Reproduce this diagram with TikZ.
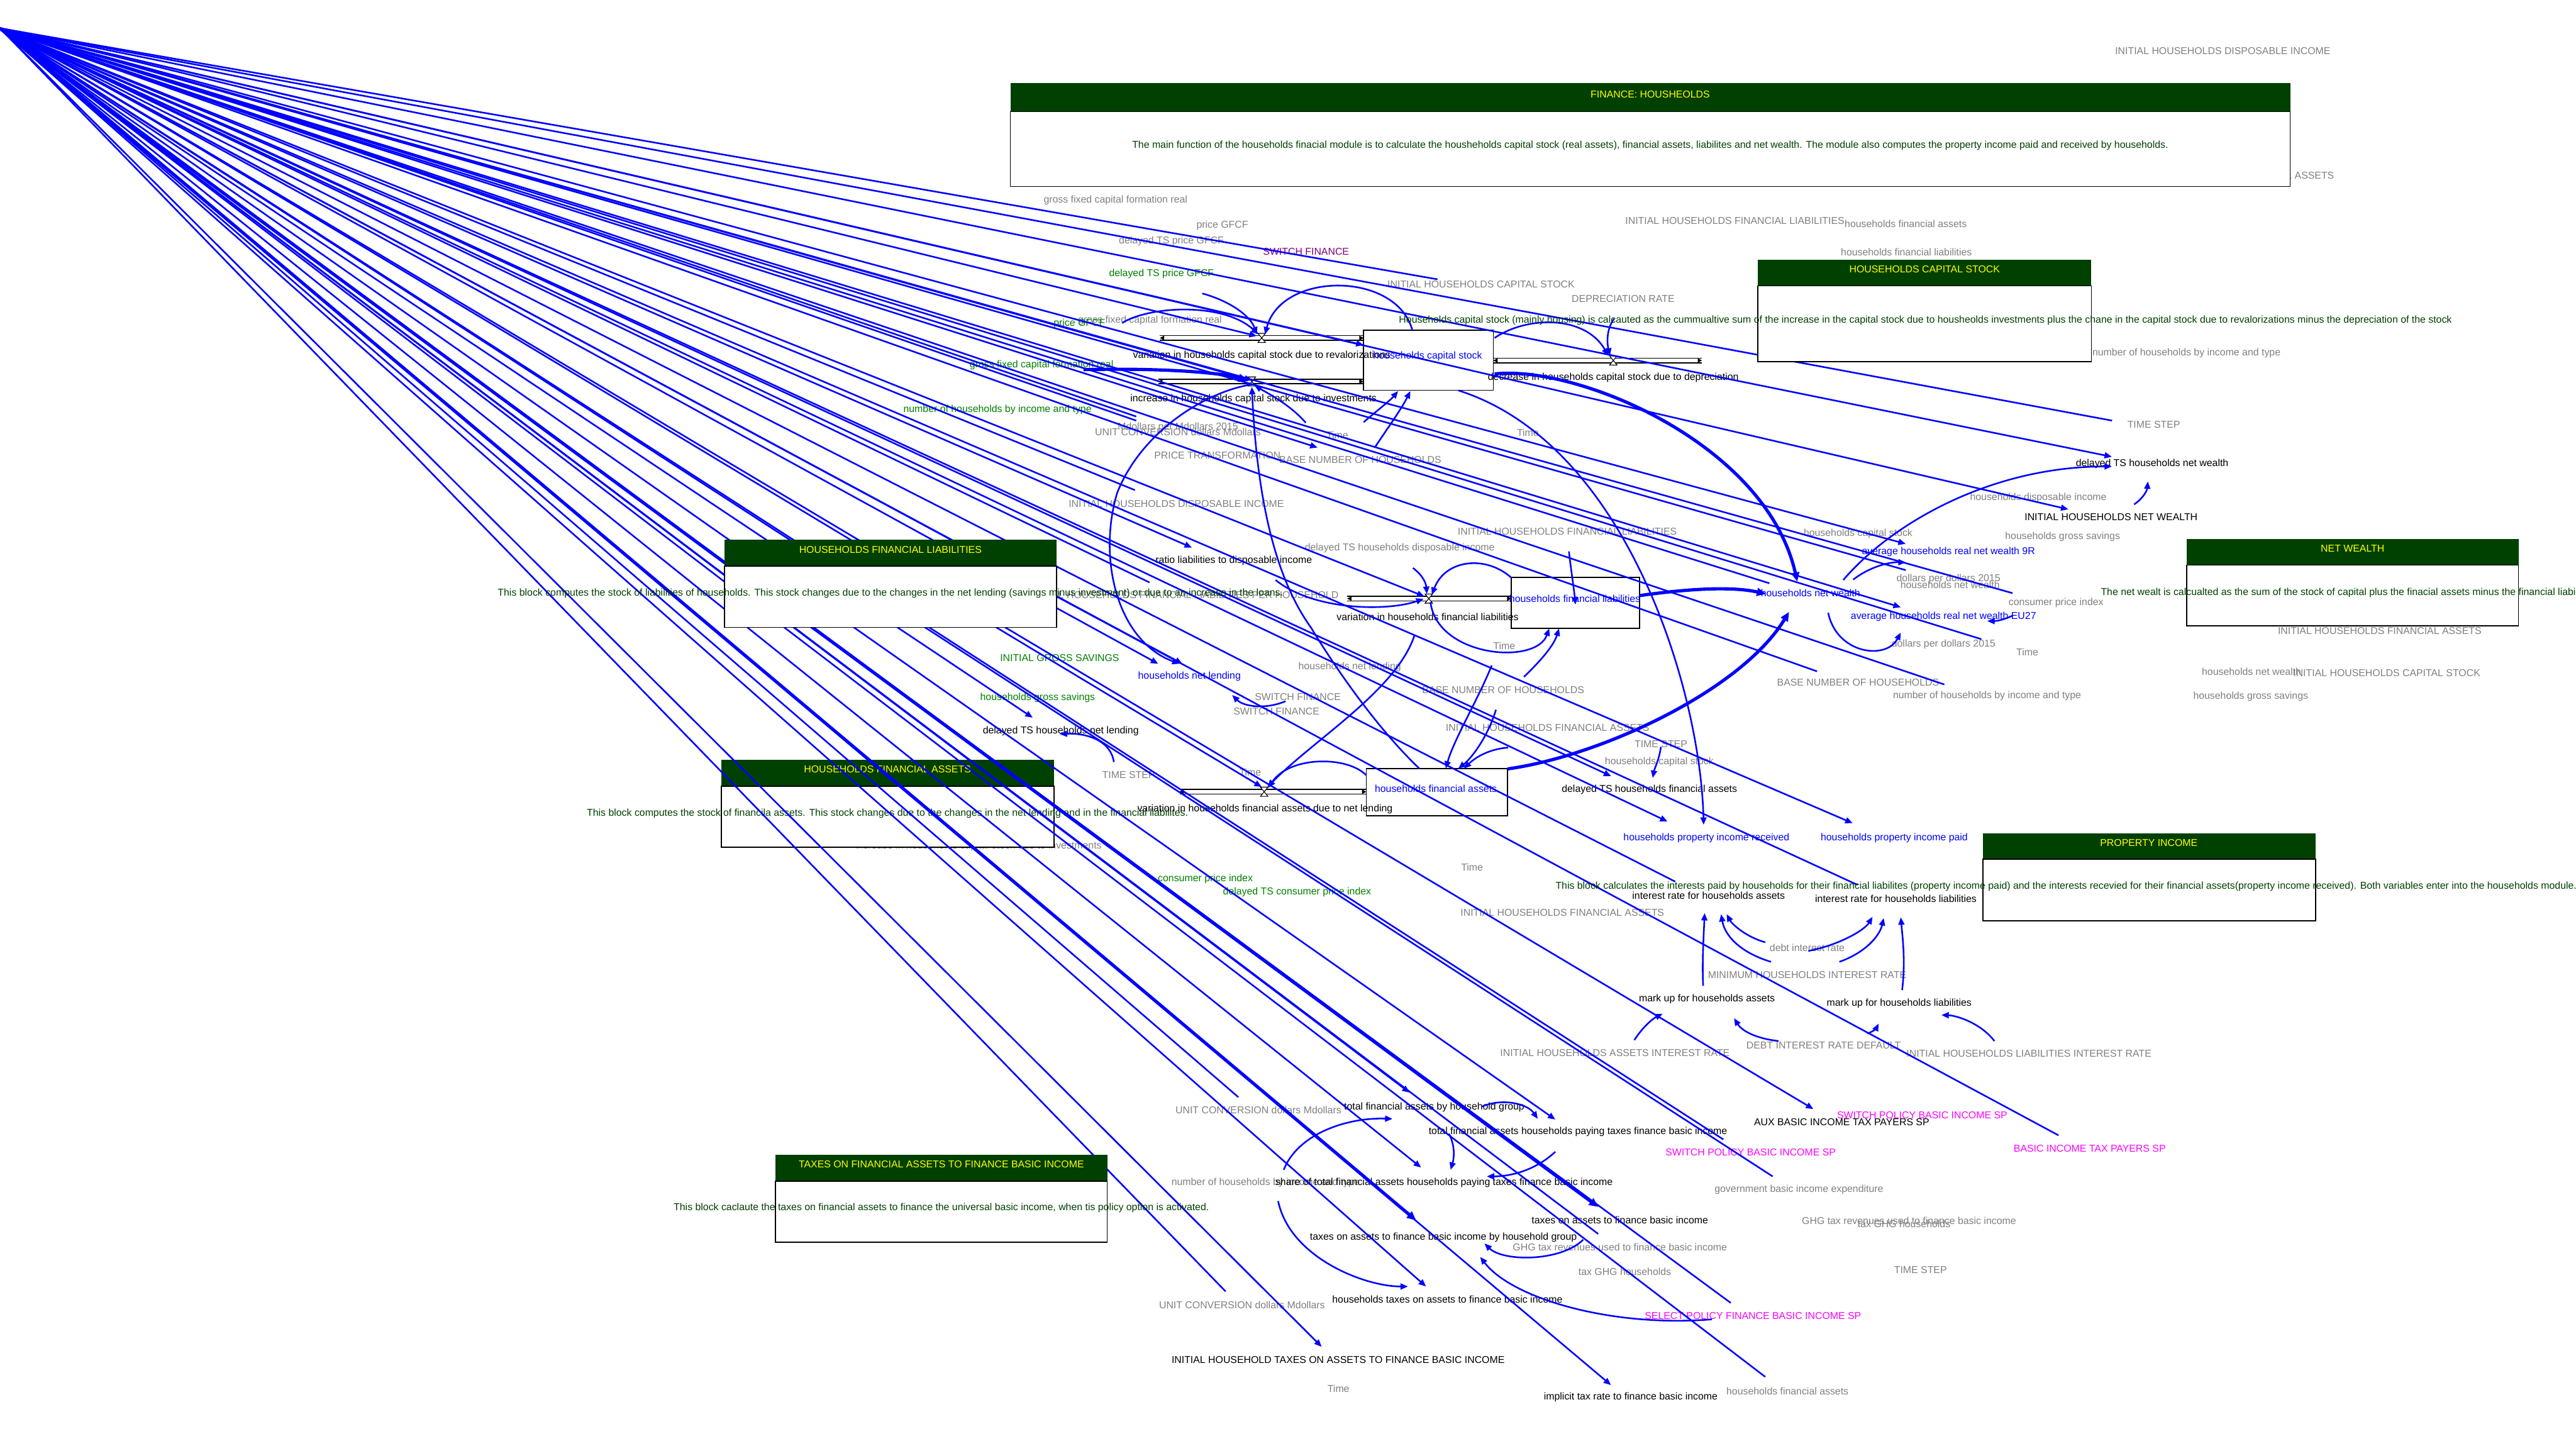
\documentclass[tikz,border=0pt]{standalone}
\usepackage{fontspec}
\setmainfont{Liberation Sans}
\usetikzlibrary{arrows.meta}
\definecolor{vgray}{RGB}{128,128,128}
\definecolor{vgreen}{RGB}{0,128,0}
\definecolor{vdark}{RGB}{0,64,0}
\definecolor{vblue}{RGB}{0,0,255}
\definecolor{vmag}{RGB}{255,0,255}
\definecolor{vpur}{RGB}{128,0,128}
\definecolor{vyel}{RGB}{255,255,0}
\begin{document}
\begin{tikzpicture}[x=0.025cm,y=-0.025cm,
  every node/.style={inner sep=0pt,font=\fontsize{4.32}{5}\selectfont},
  gv/.style={text=vgray}, bk/.style={text=black}, bl/.style={text=vblue},
  gn/.style={text=vgreen}, dg/.style={text=vdark}, mg/.style={text=vmag},
  pu/.style={text=vpur}, yl/.style={text=vyel},
  lnk/.style={draw=vblue,line width=0.7pt},
  lnka/.style={lnk,-{Triangle[length=3.2pt,width=2.6pt]}},
  lnkar/.style={lnk,{Triangle[length=3.2pt,width=2.6pt]}-},
  lnkt/.style={draw=vblue,line width=1.4pt,-{Triangle[length=4pt,width=3.4pt]}},
  pipeline/.style={draw=black,line width=0.4pt},
  stockbox/.style={draw=black,line width=0.45pt},
  headfill/.style={fill=vdark},
  bodybox/.style={draw=black,fill=white,line width=0.45pt}]
\useasboundingbox (0,0) rectangle (1568,880);
\clip (0,0) rectangle (1568,880);
\fill[white] (0,0) rectangle (1568,880);

% labels partly hidden by boxes
\node[gv,anchor=east] (h1) at (1421,107) {INITIAL HOUSEHOLDS FINANCIAL ASSETS};
\node[gv,anchor=east] (h2) at (1388.4,214.9) {number of households by income and type};
\node[gv,anchor=east] (h3) at (815,362) {INITIAL HOUSEHOLDS FINANCIAL LIABILITIES PER HOUSEHOLD};
\node[gv] (h4) at (595.6,515) {increase in households capital stock due to investments};

% financial assets box (under the links)
\fill[headfill] (439,462.5) rectangle (641.5,478.5);
\draw[bodybox] (439,478.5) rectangle (641.5,515.6);
\node[yl] (t5) at (540.2,468.2) {HOUSEHOLDS FINANCIAL ASSETS};
\node[dg] (d5) at (540.2,495) {This block computes the stock of financila assets. This stock changes due to the changes in the net lending and in the financial liabilites.};

% stocks
\draw[stockbox] (830,201) rectangle (909,237.6);
\draw[stockbox] (920,351.4) rectangle (998,382.5);
\draw[stockbox] (831.6,467.8) rectangle (917.6,496.6);

% pipes
\newcommand{\vpipe}[4]{%
  \draw[pipeline] (#1,#3-1.4) -- (#2,#3-1.4) (#1,#3+1.4) -- (#2,#3+1.4);
  \fill (#1,#3) -- (#1+2.6,#3-1.4) -- (#1+2.6,#3+1.4) -- cycle;
  \fill (#2,#3) -- (#2-2.6,#3-1.4) -- (#2-2.6,#3+1.4) -- cycle;
  \filldraw[fill=white,draw=black,line width=0.3pt] (#4-2.3,#3-2.8) -- (#4+2.3,#3-2.8) -- (#4-2.3,#3+2.8) -- (#4+2.3,#3+2.8) -- cycle;}
\vpipe{706}{830}{205.7}{768}
\vpipe{705}{830}{232.2}{762}
\vpipe{909}{1036}{219.4}{982}
\vpipe{820}{920}{364.3}{869.7}
\vpipe{718}{831.6}{481.9}{769.5}

% gray labels
\node[gv] (g1) at (1353,31) {INITIAL HOUSEHOLDS DISPOSABLE INCOME};
\node[gv] (g3) at (679,121.8) {gross fixed capital formation real};
\node[gv] (g4) at (744,137.3) {price GFCF};
\node[gv] (g5) at (713,146.8) {delayed TS price GFCF};
\node[gv] (g6) at (901.5,173) {INITIAL HOUSEHOLDS CAPITAL STOCK};
\node[gv] (g7) at (988,182) {DEPRECIATION RATE};
\node[gv] (g8) at (1056,134.5) {INITIAL HOUSEHOLDS FINANCIAL LIABILITIES};
\node[gv] (g9) at (1160,136.2) {households financial assets};
\node[gv] (g10) at (1160.4,153.4) {households financial liabilities};
\node[gv] (g12) at (1311,258.3) {TIME STEP};
\node[gv] (g13) at (1240.7,302.8) {households disposable income};
\node[gv] (g14) at (1131,324.8) {households capital stock};
\node[gv] (g15) at (1255.5,326.6) {households gross savings};
\node[gv] (g16) at (1186,352.5) {dollars per dollars 2015};
\node[gv] (g17) at (1187,355.8) {households net wealth};
\node[gv] (g18) at (1251.5,366.7) {consumer price index};
\node[gv] (g19) at (1183,392.1) {dollars per dollars 2015};
\node[gv] (g20) at (1234,397) {Time};
\node[gv] (g21) at (1448.5,384) {INITIAL HOUSEHOLDS FINANCIAL ASSETS};
\node[gv] (g22) at (1370.5,408.6) {households net wealth};
\node[gv] (g23) at (1452.8,409.7) {INITIAL HOUSEHOLDS CAPITAL STOCK};
\node[gv] (g24) at (1370,424) {households gross savings};
\node[gv] (g25) at (1131,415.5) {BASE NUMBER OF HOUSEHOLDS};
\node[gv] (g26) at (1209.5,423.6) {number of households by income and type};
\node[gv] (g27) at (700,195) {gross fixed capital formation real};
\node[gv] (g28) at (717,260) {Mdollars per Mdollars 2015};
\node[gv] (g29) at (717,263) {UNIT CONVERSION dollars Mdollars};
\node[gv] (g30) at (814,265) {Time};
\node[gv] (g31) at (930,263.5) {Time};
\node[gv] (g32) at (741,277) {PRICE TRANSFORMATION};
\node[gv] (g33) at (828,280) {BASE NUMBER OF HOUSEHOLDS};
\node[gv] (g34) at (716,306.6) {INITIAL HOUSEHOLDS DISPOSABLE INCOME};
\node[gv] (g35) at (852,333.4) {delayed TS households disposable income};
\node[gv] (g36) at (954,323.5) {INITIAL HOUSEHOLDS FINANCIAL LIABILITIES};
\node[gv] (g38) at (915.6,393) {Time};
\node[gv] (g39) at (821.6,405.9) {households net lending};
\node[gv] (g40) at (790,424) {SWITCH FINANCE};
\node[gv] (g41) at (777,432.9) {SWITCH FINANCE};
\node[gv] (g42) at (915,420) {BASE NUMBER OF HOUSEHOLDS};
\node[gv] (g43) at (942,442.8) {INITIAL HOUSEHOLDS FINANCIAL ASSETS};
\node[gv] (g44) at (1011,452.8) {TIME STEP};
\node[gv] (g45) at (1010,463.6) {households capital stock};
\node[gv] (g46) at (761,470) {Time};
\node[gv] (g47) at (687,471.8) {TIME STEP};
\node[gv] (g49) at (896,528) {Time};
\node[gv] (g50) at (951,555.4) {INITIAL HOUSEHOLDS FINANCIAL ASSETS};
\node[gv] (g51) at (1100,577) {debt interest rate};
\node[gv] (g52) at (1100,593.4) {MINIMUM HOUSEHOLDS INTEREST RATE};
\node[gv] (g53) at (1110,636.4) {DEBT INTEREST RATE DEFAULT};
\node[gv] (g54) at (983,641) {INITIAL HOUSEHOLDS ASSETS INTEREST RATE};
\node[gv] (g55) at (1235,641.4) {INITIAL HOUSEHOLDS LIABILITIES INTEREST RATE};
\node[gv] (g56) at (766,675.7) {UNIT CONVERSION dollars Mdollars};
\node[gv,anchor=west] (g57) at (712.8,719.7) {number of households by income and type};
\node[gv] (g58) at (1095,724) {government basic income expenditure};
\node[gv] (g59) at (1162,742.8) {GHG tax revenues used to finance basic income};
\node[gv] (g60) at (1159,744.8) {tax GHG households};
\node[gv] (g61) at (986,759) {GHG tax revenues used to finance basic income};
\node[gv] (g62) at (989,774) {tax GHG households};
\node[gv] (g63) at (1169,773) {TIME STEP};
\node[gv] (g64) at (756,794.2) {UNIT CONVERSION dollars Mdollars};
\node[gv] (g65) at (814.7,845.3) {Time};
\node[gv] (g66) at (1088,846.6) {households financial assets};

% black labels
\node[bk] (k1) at (768,216.6) {variation in households capital stock due to revalorizations};
\node[bk] (k2) at (763,243) {increase in households capital stock due to investments};
\node[bk] (k3) at (982,230) {decrease in households capital stock due to depreciation};
\node[bk] (k4) at (1310,282.2) {delayed TS households net wealth};
\node[bk] (k5) at (1285,314.7) {INITIAL HOUSEHOLDS NET WEALTH};
\node[bk] (k6) at (751,341.4) {ratio liabilities to disposable income};
\node[bk] (k7) at (869,375.3) {variation in households financial liabilities};
\node[bk] (k8) at (645.7,444.9) {delayed TS households net lending};
\node[bk] (k9) at (1004,480.7) {delayed TS households financial assets};
\node[bk] (k10) at (770,492.5) {variation in households financial assets due to net lending};
\node[bk] (k11) at (1040,545) {interest rate for households assets};
\node[bk] (k12) at (1154,547) {interest rate for households liabilities};
\node[bk] (k13) at (1039,608) {mark up for households assets};
\node[bk] (k14) at (1156,610.7) {mark up for households liabilities};
\node[bk] (k15) at (873,674) {total financial assets by household group};
\node[bk] (k16) at (1121,683) {AUX BASIC INCOME TAX PAYERS SP};
\node[bk] (k17) at (960.5,688.8) {total financial assets households paying taxes finance basic income};
\node[bk] (k18) at (879,719.7) {share of total financial assets households paying taxes finance basic income};
\node[bk] (k19) at (986,742.5) {taxes on assets to finance basic income};
\node[bk] (k20) at (878.6,753) {taxes on assets to finance basic income by household group};
\node[bk] (k21) at (881,791) {households taxes on assets to finance basic income};
\node[bk] (k22) at (814.5,827.7) {INITIAL HOUSEHOLD TAXES ON ASSETS TO FINANCE BASIC INCOME};
\node[bk] (k23) at (992.6,850.5) {implicit tax rate to finance basic income};

% blue labels
\node[bl] (b1) at (869,217) {households capital stock};
\node[bl] (b2) at (958.6,364.5) {households financial liabilities};
\node[bl] (b3) at (874,480) {households financial assets};
\node[bl] (b4) at (1102,361) {households net wealth};
\node[bl] (b5) at (1186,335.9) {average households real net wealth 9R};
\node[bl] (b6) at (1183,375.3) {average households real net wealth EU27};
\node[bl] (b7) at (724,411.7) {households net lending};
\node[bl] (b8) at (1038.7,509.9) {households property income received};
\node[bl] (b9) at (1153,509.9) {households property income paid};

% green labels
\node[gn] (n1) at (707,166.6) {delayed TS price GFCF};
\node[gn] (n2) at (657,197) {price GFCF};
\node[gn,anchor=east] (n3) at (678,222) {gross fixed capital formation real};
\node[gn,anchor=east] (n4) at (664.7,249.4) {number of households by income and type};
\node[gn] (n5) at (645,400.3) {INITIAL GROSS SAVINGS};
\node[gn] (n6) at (631.6,424.8) {households gross savings};
\node[gn] (n7) at (733.7,535) {consumer price index};
\node[gn] (n8) at (789.5,543) {delayed TS consumer price index};

\node[pu] (p1) at (795,153) {SWITCH FINANCE};
\node[mg] (m1) at (1170,678.7) {SWITCH POLICY BASIC INCOME SP};
\node[mg] (m2) at (1065.6,701.5) {SWITCH POLICY BASIC INCOME SP};
\node[mg] (m3) at (1272,699) {BASIC INCOME TAX PAYERS SP};
\node[mg] (m4) at (1067,801) {SELECT POLICY FINANCE BASIC INCOME SP};

% fan of links from the corner
\coordinate (O) at (0,17.2);
\foreach \x/\y in {875/170,1285.6/256,1160/347,1077/355,1206/389,1106/408.6,1183.5/416.6,1225/361,691.6/253.5,691.6/256,690.8/298.3,699.7/354.5,1019.7/536.6,1130.7/538.6,1253/691,1079/716,1049/693.5,1053.5/793,1074.5/838,972.8/751,746/786,753.8/667.8}
  {\coordinate (e) at (\x,\y); \draw[lnk] (O) -- (e);}
\foreach \x/\y in {830/210,765/204.5,762/231.5,802/272.4,1285.5/278,1259/310,1160/331,1157/369.6,725.5/333.3,867/363,705/404,719.7/404,628.6/436.8,768/479,980.7/472.4,1015/500,1127.7/501,1103.8/675,980.6/843,946.7/681.4,868/783,865/710.6,858/665,804.5/819.7}
  {\coordinate (e) at (\x,\y); \draw[lnka] (O) -- (e);}
\foreach \x/\y in {972.9/734.6,862/742.8}
  {\coordinate (e) at (\x,\y); \draw[lnkt] (O) -- (e);}

% curved links: capital stock
\draw[lnka] (731.8,178.6) .. controls (748,183) and (761,192) .. (765,203.5);
\draw[lnka] (859.7,201) .. controls (850,165) and (780,165) .. (770,203.5);
\draw[lnka] (683,196.6) .. controls (700,186) and (745,184) .. (766,203.5);
\draw[lnkt] (659.5,225) .. controls (700,224) and (740,226) .. (759.5,231.5);
\draw[lnka] (762,234) .. controls (735,238) and (695,262) .. (680,300) .. controls (668,340) and (680,390) .. (718,404);
\draw[lnkar] (762,235.5) .. controls (765,300) and (775,350) .. (798,382) .. controls (815,410) and (840,445) .. (864,467.8);
\draw[lnka] (794.8,257.3) .. controls (785,246) and (771,239) .. (763.5,234.5);
\draw[lnka] (830,257) .. controls (838,250) and (846,244) .. (851,238);
\draw[lnka] (836.8,272.4) .. controls (845,260) and (853,249) .. (858.5,238);
\draw[lnka] (887.6,237.6) .. controls (990,270) and (1035,420) .. (1037,502);
\draw[lnka] (909.7,205.7) .. controls (930,192) and (965,192) .. (979,216.5);
\draw[lnka] (982.5,194) .. controls (978,200) and (978,208) .. (980,216.5);
\draw[lnkt] (909.7,227.6) .. controls (960,222) and (1075,270) .. (1094,354);

% net wealth
\draw[lnka] (1122,353) .. controls (1150,320) and (1210,284) .. (1285.5,283.9);
\draw[lnka] (1299,307) .. controls (1305,303) and (1307,298) .. (1307.4,293);
\draw[lnka] (1128,352.8) .. controls (1138,345) and (1150,342) .. (1160,342.3);
\draw[lnka] (1112.8,373) .. controls (1118,398) and (1148,402) .. (1157,385);
\draw[lnka] (1225,374.7) .. controls (1218,378) and (1214,378) .. (1209.6,378);
\draw[lnkt] (917.6,468) .. controls (975,460) and (1060,420) .. (1089,372.4);
\draw[lnkt] (998,362.5) .. controls (1030,358) and (1055,357) .. (1075,361.5);

% liabilities and assets
\draw[lnka] (920,351.7) .. controls (905,338) and (880,340) .. (871.5,362);
\draw[lnka] (860,345.7) .. controls (866,350) and (868,355) .. (868.5,361.5);
\draw[lnka] (776.4,353) .. controls (800,372) and (845,372) .. (866.5,364.5);
\draw[lnka] (870.7,366.5) .. controls (875,400) and (935,405) .. (943,382.5);
\draw[lnka] (927.6,412) .. controls (940,400) and (946,392) .. (949,382.5);
\draw[lnka] (955,335.6) .. controls (956,345) and (958,358) .. (959,368);
\draw[lnka] (861,386.7) .. controls (850,420) and (800,450) .. (771.5,479);
\draw[lnka] (831.6,471.8) .. controls (820,460) and (785,460) .. (772,479.5);
\draw[lnka] (908,405) .. controls (900,425) and (885,450) .. (880,467.8);
\draw[lnka] (910.6,432) .. controls (905,450) and (895,462) .. (887.6,467.8);
\draw[lnka] (918,455) .. controls (905,456) and (897,462) .. (891,467.8);
\draw[lnka] (782.5,426.8) .. controls (770,432) and (757,430) .. (750,423);
\draw[lnka] (678,463.8) .. controls (676,450) and (660,446) .. (645,446.8);
\draw[lnka] (1011,454.5) .. controls (1010,462) and (1007,468) .. (1006,473.5);

% property income
\draw[lnka] (1036.7,600) .. controls (1036,585) and (1037,570) .. (1037.6,555.7);
\draw[lnka] (1078,585.4) .. controls (1060,580) and (1050,570) .. (1047.6,556.4);
\draw[lnka] (1074.5,573.5) .. controls (1062,570) and (1054,562) .. (1051,556.4);
\draw[lnka] (1100.7,578.8) .. controls (1120,575) and (1135,566) .. (1139.8,558);
\draw[lnka] (1119.6,585.4) .. controls (1135,580) and (1144,570) .. (1146.6,558.8);
\draw[lnka] (1157.8,602.6) .. controls (1160,585) and (1158,570) .. (1157,558.3);
\draw[lnka] (994.8,633) .. controls (1000,625) and (1006,620) .. (1012,617);
\draw[lnka] (1082.6,633.6) .. controls (1068,632) and (1060,627) .. (1055.5,619.7);
\draw[lnka] (1136.6,629) .. controls (1140,628) and (1142,626) .. (1143.5,623);
\draw[lnka] (1214,633.6) .. controls (1205,622) and (1190,618) .. (1181.7,617.8);

% taxes
\draw[lnka] (902,673.5) .. controls (915,668) and (930,672) .. (936,681);
\draw[lnka] (781.4,712) .. controls (790,690) and (820,680) .. (847.6,681);
\draw[lnka] (882,690) .. controls (886,698) and (885,705) .. (883,712);
\draw[lnka] (946.7,701) .. controls (935,712) and (920,716) .. (905,716);
\draw[lnka] (963.7,754.5) .. controls (950,768) and (915,768) .. (903.6,756.8);
\draw[lnka] (1042,803) .. controls (980,808) and (920,790) .. (901,765);
\draw[lnka] (778,731) .. controls (785,765) and (830,783) .. (857,783);

% boxes drawn over the links
\fill[headfill] (615,50.6) rectangle (1394,68);
\draw[bodybox] (615,68) rectangle (1394,113.5);
\node[yl] (t1) at (1004.5,57.6) {FINANCE: HOUSHEOLDS};
\node[dg] (d1) at (1004.5,88.5) {The main function of the households finacial module is to calculate the housheholds capital stock (real assets), financial assets, liabilites and net wealth. The module also computes the property income paid and received by households.};

\fill[headfill] (1070,158) rectangle (1273,174);
\draw[bodybox] (1070,174) rectangle (1273,220);
\node[yl] (t2) at (1171.5,164) {HOUSEHOLDS CAPITAL STOCK};
\node[dg] (d2) at (1172,195) {Households capital stock (mainly housing) is calcauted as the cummualtive sum of the increase in the capital stock due to housheolds investments plus the chane in the capital stock due to revalorizations minus the depreciation of the stock};

\fill[headfill] (1331,328) rectangle (1533,344);
\draw[bodybox] (1331,344) rectangle (1533,381);
\node[yl] (t3) at (1432,334) {NET WEALTH};
\node[dg,anchor=west] (d3) at (1278.5,360.6) {The net wealt is calcualted as the sum of the stock of capital plus the finacial assets minus the financial liabilities};

\fill[headfill] (441,328.6) rectangle (643,344.5);
\draw[bodybox] (441,344.5) rectangle (643,381.8);
\node[yl] (t4) at (542,334.5) {HOUSEHOLDS FINANCIAL LIABILITIES};
\node[dg] (d4) at (542,361) {This block computes the stock of liabilities of households. This stock changes due to the changes in the net lending (savings minus investment) or due to an increase in the loans.};

\fill[headfill] (1207,507.3) rectangle (1409.5,523);
\draw[bodybox] (1207,523) rectangle (1409.5,560.4);
\node[yl] (t6) at (1308,513) {PROPERTY INCOME};
\node[dg,anchor=west] (d6) at (946.6,539.7) {This block calculates the interests paid by households for their financial liabilites (property income paid) and the interests recevied for their financial assets(property income received). Both variables enter into the households module.};

\fill[headfill] (472,702.7) rectangle (674,718.8);
\draw[bodybox] (472,718.8) rectangle (674,756);
\node[yl] (t7) at (573,708.6) {TAXES ON FINANCIAL ASSETS TO FINANCE BASIC INCOME};
\node[dg] (d7) at (573,735) {This block caclaute the taxes on financial assets to finance the universal basic income, when tis policy option is activated.};
\end{tikzpicture}
\end{document}
